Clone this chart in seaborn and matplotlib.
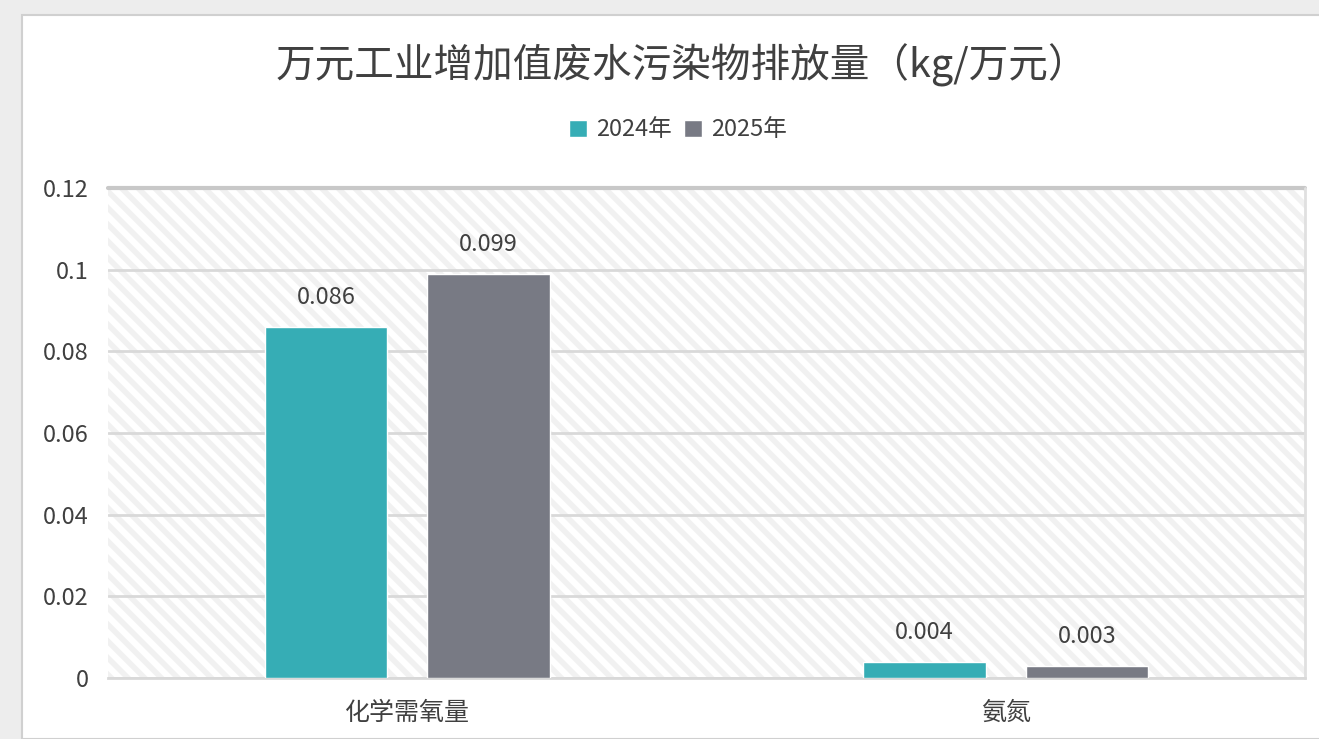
"""
万元工业增加值废水污染物排放量 柱状图
"""

import matplotlib
matplotlib.use('Agg')
import matplotlib.pyplot as plt
import seaborn as sns
import pandas as pd
from matplotlib.patches import Rectangle

# 数据
categories = ['化学需氧量', '氨氮']
years = ['2024年', '2025年']
values_2024 = [0.086, 0.004]
values_2025 = [0.099, 0.003]
value_labels_2024 = ['0.086', '0.004']
value_labels_2025 = ['0.099', '0.003']
y_ticks = [0, 0.02, 0.04, 0.06, 0.08, 0.1, 0.12]
y_tick_labels = ['0', '0.02', '0.04', '0.06', '0.08', '0.1', '0.12']

colors = ['#36ADB5', '#787A84']

sns.set_theme(style='white')
plt.rcParams['font.family'] = ['Noto Sans CJK SC', 'DejaVu Sans']
plt.rcParams['hatch.linewidth'] = 4.0
plt.rcParams['hatch.color'] = '#F1F1F1'

df = pd.DataFrame({
    '类别': categories * 2,
    '年份': [years[0]] * len(categories) + [years[1]] * len(categories),
    '值': values_2024 + values_2025,
})

fig = plt.figure(figsize=(13.19, 7.39), dpi=100)
fig.patch.set_facecolor('#EDEDED')
# 白色卡片
fig.patches.append(Rectangle((22 / 1319, 0), 1.0, 1 - 15 / 739,
                             transform=fig.transFigure, facecolor='white',
                             edgecolor='#D0D0D0', linewidth=1.5, zorder=-5))

ax = fig.add_axes([108 / 1319, 1 - 678 / 739, (1305 - 108) / 1319, (678 - 188) / 739])
ax.set_facecolor('none')

# 斜线底纹
ax.add_patch(Rectangle((0, 0), 1, 1, transform=ax.transAxes, facecolor='white',
                       edgecolor='#F1F1F1', hatch='\\\\', linewidth=0, zorder=0))

sns.barplot(data=df, x='类别', y='值', hue='年份', palette=colors, saturation=1,
            width=0.543, gap=0.245, ax=ax, zorder=3, legend=True)

ax.set_ylim(0, 0.12)
ax.set_xlim(-0.5, 1.5)
ax.set_yticks(y_ticks)
ax.set_yticklabels(y_tick_labels)
ax.tick_params(axis='y', labelsize=17, colors='#404040', pad=14, length=0)
ax.tick_params(axis='x', labelsize=18, colors='#404040', pad=16, length=0)
ax.set_xlabel('')
ax.set_ylabel('')

ax.yaxis.grid(True, color='#D9D9D9', linewidth=2, zorder=1)
ax.set_axisbelow(True)
for s in ['left', 'right', 'top']:
    ax.spines[s].set_visible(False)
ax.spines['bottom'].set_color('#D9D9D9')
ax.spines['bottom'].set_linewidth(2)
# 上边和右边的阴影边框
ax.axhline(0.12, color='#C8C8C8', linewidth=3, zorder=2, clip_on=False)
ax.axvline(1.5, color='#E0E0E0', linewidth=2, zorder=2, clip_on=False)

# 数据标签
for container, labels in zip(ax.containers, [value_labels_2024, value_labels_2025]):
    ax.bar_label(container, labels=labels, padding=13, fontsize=17, color='#404040')

# 图例
handles, labs = ax.get_legend_handles_labels()
ax.legend(handles, labs, loc='center', bbox_to_anchor=(678 / 1319, 1 - 130 / 739),
          bbox_transform=fig.transFigure, ncol=2, frameon=False, fontsize=17,
          handlelength=0.75, handleheight=0.75, handletextpad=0.4, columnspacing=0.5,
          labelcolor='#404040')

fig.text(682 / 1319, 1 - 65 / 739, '万元工业增加值废水污染物排放量（kg/万元）',
         ha='center', va='center', fontsize=28.5, color='#404040')

plt.savefig('out.png', dpi=100, facecolor=fig.get_facecolor())
plt.close()
